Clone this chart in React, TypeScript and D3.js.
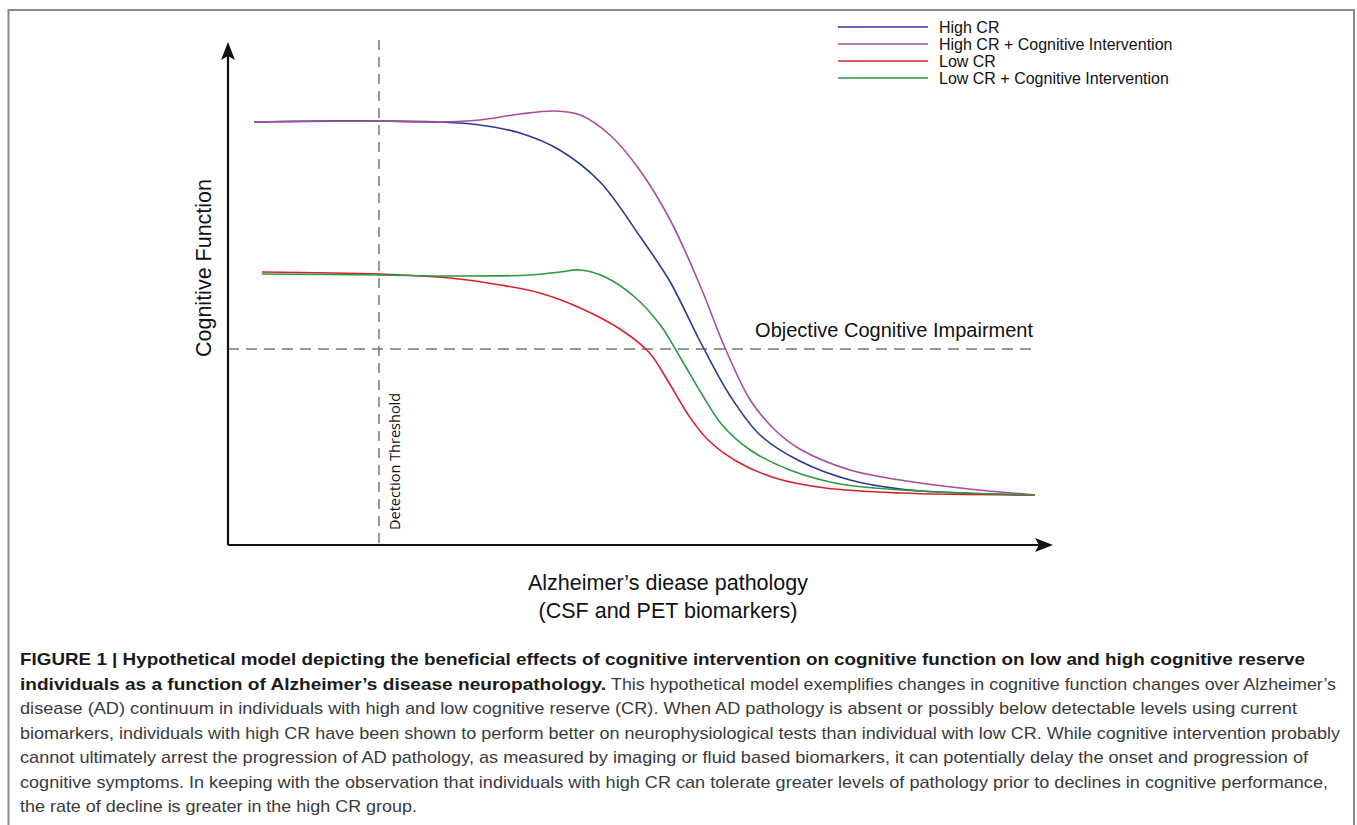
import React from 'react';
import * as d3 from 'd3';

// curves: x = pathology (0-100), y = cognitive function (0-100)
const highCR = [
  [3.15, 84.6], [11.1, 84.8], [18.3, 84.8], [25.7, 84.6], [30.5, 84], [35.4, 82.4], [40.2, 79],
  [45.1, 72.6], [49.9, 61.8], [53.6, 52.6], [57.2, 40.8], [60.8, 30], [64.5, 22], [69.3, 16.8],
  [75.4, 13], [81.5, 11.2], [88.7, 10.4], [97.8, 10],
];
const highCRIntervention = [
  [3.15, 84.6], [18.3, 84.8], [25.7, 84.6], [30.5, 85], [35.4, 86.2], [39.6, 86.8], [42.7, 86],
  [46.3, 82], [49.9, 75], [53.6, 65], [57.2, 52], [60.2, 39.6], [63.3, 29], [66.3, 23],
  [69.3, 19.2], [75.4, 15], [81.5, 13], [88.7, 11.4], [97.8, 10],
];
const lowCR = [
  [4.1, 54.6], [18.3, 54.2], [26.9, 53.4], [33, 52], [37.8, 50.4], [42.7, 47.4], [47.5, 43.2],
  [51, 38.6], [53.4, 32.6], [55.8, 26], [58.2, 21], [61.8, 16.6], [66.3, 13.4], [72.4, 11.4],
  [81.5, 10.4], [97.8, 10],
];
const lowCRIntervention = [
  [4.1, 54.2], [18.3, 54], [26.9, 53.8], [36.6, 54], [40.2, 54.6], [42.7, 55], [45.7, 53.6],
  [49.3, 49.6], [52.4, 44], [55, 37], [57.5, 30], [59.9, 24], [63.3, 19], [68.1, 15],
  [74.2, 12.2], [83.9, 10.8], [97.8, 10],
];

const seriesNames = ['High CR', 'High CR + Cognitive Intervention', 'Low CR', 'Low CR + Cognitive Intervention'];
const seriesColors = ['#2b3990', '#a94ca0', '#d7222b', '#2a9a3e'];
const seriesData = [highCR, highCRIntervention, lowCR, lowCRIntervention];

const detectionThreshold = 18.3;
const impairmentLevel = 39.2;

const captionLines = [
  'FIGURE 1 | Hypothetical model depicting the beneficial effects of cognitive intervention on cognitive function on low and high cognitive reserve',
  'This hypothetical model exemplifies changes in cognitive function changes over Alzheimer\u2019s',
  'disease (AD) continuum in individuals with high and low cognitive reserve (CR). When AD pathology is absent or possibly below detectable levels using current',
  'biomarkers, individuals with high CR have been shown to perform better on neurophysiological tests than individual with low CR. While cognitive intervention probably',
  'cannot ultimately arrest the progression of AD pathology, as measured by imaging or fluid based biomarkers, it can potentially delay the onset and progression of',
  'cognitive symptoms. In keeping with the observation that individuals with high CR can tolerate greater levels of pathology prior to declines in cognitive performance,',
  'the rate of decline is greater in the high CR group.',
];
const captionBoldLead = 'individuals as a function of Alzheimer\u2019s disease neuropathology.';
const captionLineEnds = [1305, 1336, 1297, 1340, 1308, 1328, 417];

const W = 1357;
const H = 825;

export default function App() {
  const x = d3.scaleLinear().domain([0, 100]).range([228, 1053]);
  const y = d3.scaleLinear().domain([0, 100]).range([545, 45]);

  const line = d3.line<number[]>()
    .x(d => x(d[0]))
    .y(d => y(d[1]))
    .curve(d3.curveCatmullRom.alpha(0.5));

  const font = '"Liberation Sans", Arial, Helvetica, sans-serif';
  const x0 = x(0);
  const y0 = y(0);
  const xEnd = x(100);
  const yTop = y(100);
  const capX = 20;
  const capY = 665;
  const capStep = 24.5;
  const boldEnd = 606;

  return (
    <svg width={W} height={H} style={{ position: 'absolute', left: 0, top: 0 }} fontFamily={font}>
      <rect x={0} y={0} width={W} height={H} fill="#fff" />
      <rect x={8.5} y={10} width={1345.5} height={H + 20} fill="none" stroke="#8a8a8a" strokeWidth={2} />

      {/* reference lines */}
      <line x1={x(detectionThreshold)} x2={x(detectionThreshold)} y1={yTop - 5} y2={y0}
        stroke="#777" strokeWidth={1.5} strokeDasharray="10 7" />
      <line x1={x0} x2={x(98)} y1={y(impairmentLevel)} y2={y(impairmentLevel)}
        stroke="#777" strokeWidth={1.5} strokeDasharray="11 7" />

      {/* axes */}
      <line x1={x0} x2={xEnd - 10} y1={y0} y2={y0} stroke="#111" strokeWidth={2.2} />
      <line x1={x0} x2={x0} y1={y0} y2={yTop + 8} stroke="#111" strokeWidth={2.2} />
      <path d={`M${xEnd},${y0} L${xEnd - 18},${y0 - 7} L${xEnd - 14},${y0} L${xEnd - 18},${y0 + 7} Z`} fill="#111" />
      <path d={`M${x0},${yTop - 3} L${x0 - 7},${yTop + 15} L${x0},${yTop + 11} L${x0 + 7},${yTop + 15} Z`} fill="#111" />

      {/* curves */}
      {seriesData.map((d, i) => (
        <path key={seriesNames[i]} d={line(d) || ''} fill="none" stroke={seriesColors[i]} strokeWidth={1.6} />
      ))}

      {/* legend */}
      {seriesNames.map((name, i) => (
        <g key={name} transform={`translate(838, ${27 + i * 17})`}>
          <line x1={0} x2={90} y1={0} y2={0} stroke={seriesColors[i]} strokeWidth={1.6} />
          <text x={101} y={5.5} fontSize={16} fill="#111">{name}</text>
        </g>
      ))}

      {/* annotations */}
      <text x={1033} y={337} textAnchor="end" fontSize={20} fill="#111">Objective Cognitive Impairment</text>
      <text transform={`translate(${x(detectionThreshold) + 21}, 530) rotate(-90)`} fontSize={14.5}
        fontFamily='"Open Sans", sans-serif' fill="#111">Detection Threshold</text>
      <text transform="translate(211, 268) rotate(-90)" textAnchor="middle" fontSize={21.5} fill="#111">Cognitive Function</text>
      <text x={668} y={590} textAnchor="middle" fontSize={21.5} fill="#111">Alzheimer’s diease pathology</text>
      <text x={668} y={618} textAnchor="middle" fontSize={21.5} fill="#111">(CSF and PET biomarkers)</text>

      {/* caption */}
      <g fontSize={17}>
        {captionLines.map((t, i) => {
          if (i === 1) {
            return (
              <g key={i}>
                <text x={capX} y={capY + i * capStep} fontWeight="bold" fill="#1a1a1a"
                  textLength={boldEnd - capX} lengthAdjust="spacingAndGlyphs">{captionBoldLead}</text>
                <text x={boldEnd + 5} y={capY + i * capStep} fill="#3a3a3a"
                  textLength={captionLineEnds[i] - boldEnd - 5} lengthAdjust="spacingAndGlyphs">{t}</text>
              </g>
            );
          }
          return (
            <text key={i} x={capX} y={capY + i * capStep} fontWeight={i === 0 ? 'bold' : 'normal'}
              fill={i === 0 ? '#1a1a1a' : '#3a3a3a'}
              textLength={captionLineEnds[i] - capX} lengthAdjust="spacingAndGlyphs">{t}</text>
          );
        })}
      </g>
    </svg>
  );
}
